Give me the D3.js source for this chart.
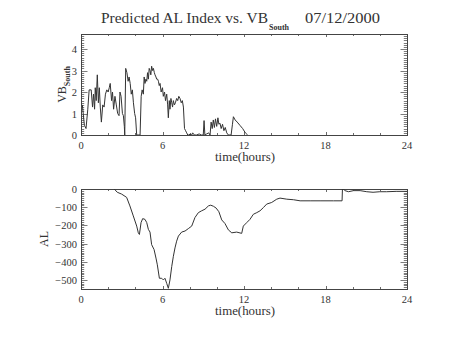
<!DOCTYPE html>
<html>
<head>
<meta charset="utf-8">
<script src="https://cdn.jsdelivr.net/npm/d3@7/dist/d3.min.js"></script>
<style>
  body { margin: 0; background: #fff; }
  text { font-family: "Liberation Serif", "DejaVu Serif", serif; fill: #333; }
</style>
</head>
<body>
<svg id="chart"></svg>
<script>
// VB_South (top panel): hours, values
const vbHours = [0.1, 0.25, 0.37, 0.5, 0.6, 0.75, 0.85, 0.92, 1.0, 1.05, 1.12, 1.2, 1.28, 1.35, 1.42, 1.5, 1.6, 1.7, 1.8, 1.9, 2.0, 2.08, 2.15, 2.25, 2.32, 2.4, 2.5, 2.6, 2.7, 2.8, 2.87, 2.95, 3.05, 3.12, 3.19, 3.22, 3.29, 3.38, 3.47, 3.54, 3.62, 3.7, 3.78, 3.86, 3.95, 4.02, 4.1, 4.35, 4.43, 4.5, 4.59, 4.65, 4.71, 4.78, 4.84, 4.9, 4.96, 5.02, 5.08, 5.14, 5.2, 5.27, 5.33, 5.4, 5.45, 5.52, 5.57, 5.64, 5.7, 5.76, 5.82, 5.9, 6.0, 6.06, 6.15, 6.22, 6.31, 6.38, 6.43, 6.5, 6.55, 6.62, 6.68, 6.74, 6.8, 6.88, 6.95, 7.04, 7.12, 7.2, 7.29, 7.38, 7.46, 7.54, 7.62, 7.7, 7.78, 7.86, 7.95, 8.03, 8.1, 8.15, 8.22, 8.35, 8.5, 8.7, 8.85, 9.0, 9.06, 9.12, 9.25, 9.4, 9.5, 9.58, 9.66, 9.74, 9.82, 9.9, 9.99, 10.08, 10.15, 10.23, 10.32, 10.42, 10.52, 10.62, 10.73, 10.85, 10.97, 11.05, 11.15, 11.22, 11.35, 11.5, 11.7, 11.9, 12.1, 12.27];
const vbValues = [1.4, 0.45, 0.3, 1.2, 2.1, 2.1, 1.3, 1.9, 1.2, 2.2, 1.6, 2.8, 1.5, 2.2, 1.3, 0.6, 1.4, 1.3, 1.9, 2.1, 2.0, 2.2, 2.4, 1.6, 2.0, 1.2, 1.8, 1.4, 1.0, 0.9, 2.0, 1.8, 1.0, 0.9, 0.4, 0.0, 3.1, 2.9, 2.5, 2.7, 2.4, 1.9, 2.1, 1.5, 1.0, 0.8, 0.0, 0.0, 1.8, 2.1, 1.9, 2.7, 2.4, 2.6, 2.5, 2.9, 2.6, 3.1, 3.0, 2.8, 3.2, 3.0, 3.1, 2.9, 2.8, 2.7, 2.6, 2.6, 2.5, 2.3, 2.4, 2.0, 2.2, 1.8, 2.0, 1.6, 1.9, 1.4, 0.8, 1.6, 1.2, 1.7, 1.5, 1.3, 1.6, 1.4, 1.5, 1.7, 1.6, 1.8, 1.7, 1.5, 1.6, 1.3, 0.3, 0.2, 0.1, 0.0, 0.0, 0.05, 0.0, 0.0, 0.1, 0.0, 0.0, 0.05, 0.0, 0.0, 0.67, 0.0, 0.05, 0.1, 0.0, 0.6, 0.3, 0.7, 0.35, 0.75, 0.4, 0.8, 0.5, 0.55, 0.3, 0.5, 0.2, 0.35, 0.1, 0.0, 0.0, 0.0, 0.5, 0.85, 0.7, 0.6, 0.45, 0.3, 0.1, 0.0];

// AL index (bottom panel): hours, values
const alHours = [2.45, 2.67, 2.99, 3.36, 3.6, 3.85, 4.1, 4.22, 4.3, 4.42, 4.54, 4.71, 4.84, 4.96, 5.08, 5.2, 5.38, 5.52, 5.62, 5.77, 5.94, 6.06, 6.18, 6.31, 6.43, 6.55, 6.68, 6.8, 6.92, 7.04, 7.17, 7.41, 7.66, 7.9, 8.15, 8.39, 8.64, 8.88, 9.13, 9.38, 9.55, 9.75, 9.95, 10.15, 10.36, 10.6, 10.85, 11.1, 11.46, 11.83, 11.95, 12.2, 12.44, 12.69, 12.94, 13.18, 13.43, 13.67, 14.04, 14.41, 14.65, 15.15, 15.64, 16.13, 16.87, 17.6, 18.59, 19.22, 19.25, 19.44, 19.69, 20.06, 20.55, 21.04, 21.5, 22.0, 22.5, 23.2, 23.8, 24.0];
const alValues = [0, -18, -28, -46, -93, -148, -204, -241, -250, -185, -163, -167, -185, -222, -237, -306, -333, -380, -417, -491, -491, -500, -491, -519, -546, -500, -426, -370, -324, -287, -259, -237, -231, -218, -204, -157, -130, -120, -111, -93, -89, -95, -105, -125, -170, -190, -225, -241, -237, -244, -204, -185, -167, -139, -130, -120, -102, -83, -74, -56, -50, -56, -59, -65, -65, -65, -65, -65, 5, -9, -15, -9, -9, -15, -18, -15, -15, -13, -13, -13];

const xTicks = [0, 6, 12, 18, 24];
const vbTicks = [0, 1, 2, 3, 4];
const alTicks = [0, -100, -200, -300, -400, -500];

const W = 454, H = 341;
const svg = d3.select("#chart").attr("width", W).attr("height", H);
svg.append("rect").attr("width", W).attr("height", H).attr("fill", "#fff");

const left = 81, right = 407;
const x = d3.scaleLinear().domain([0, 24]).range([left, right]);

function panel(top, bottom, yDomain, yTicks, yMinorStep, hours, values, labelX) {
  const y = d3.scaleLinear().domain(yDomain).range([bottom, top]);
  const g = svg.append("g");
  const ph = bottom - top, pw = right - left;
  const xMaj = 3, xMin = 2, yMaj = 6.5, yMin = 3.2;
  const ax = "#444";

  // x ticks (bottom and top, inward)
  d3.range(0, 24.01, 2).forEach(v => {
    const len = xTicks.includes(v) ? xMaj : xMin;
    const xx = Math.round(x(v)) + 0.5;
    g.append("line").attr("x1", xx).attr("x2", xx).attr("y1", bottom).attr("y2", bottom - len).attr("stroke", ax).attr("stroke-width", 0.8);
    g.append("line").attr("x1", xx).attr("x2", xx).attr("y1", top).attr("y2", top + len).attr("stroke", ax).attr("stroke-width", 0.8);
  });
  // y ticks (left and right, inward)
  const [y0, y1] = y.domain();
  const lo = Math.min(y0, y1), hi = Math.max(y0, y1);
  d3.range(Math.ceil(lo / yMinorStep) * yMinorStep, hi + 1e-9, yMinorStep).forEach(v => {
    const isMaj = yTicks.some(t => Math.abs(t - v) < 1e-6);
    const len = isMaj ? yMaj : yMin;
    const yy = Math.round(y(v)) + 0.5;
    g.append("line").attr("x1", left).attr("x2", left + len).attr("y1", yy).attr("y2", yy).attr("stroke", ax).attr("stroke-width", 0.7);
    g.append("line").attr("x1", right).attr("x2", right - len).attr("y1", yy).attr("y2", yy).attr("stroke", ax).attr("stroke-width", 0.7);
  });

  // frame
  g.append("rect").attr("x", left + 0.5).attr("y", top + 0.5).attr("width", pw).attr("height", ph)
    .attr("fill", "none").attr("stroke", ax).attr("stroke-width", 1);

  // tick labels
  g.selectAll(".xl").data(xTicks).enter().append("text")
    .attr("x", d => x(d)).attr("y", bottom + 14).attr("text-anchor", "middle")
    .attr("font-size", 10.5).text(d => d);
  g.selectAll(".yl").data(yTicks).enter().append("text")
    .attr("x", left - 4).attr("y", d => y(d) + 4).attr("text-anchor", "end")
    .attr("font-size", 10.5).text(d => d < 0 ? "\u2212" + Math.abs(d) : d);

  g.append("text").attr("x", (left + right) / 2 + 1).attr("y", bottom + 26)
    .attr("text-anchor", "middle").attr("font-size", 11.5)
    .attr("textLength", 60).attr("lengthAdjust", "spacingAndGlyphs").text("time(hours)");

  // clip + line
  const clipId = "clip" + top;
  svg.append("clipPath").attr("id", clipId).append("rect")
    .attr("x", left).attr("y", top).attr("width", pw).attr("height", ph);
  const line = d3.line().x((d, i) => x(hours[i])).y(d => y(d));
  g.append("path").datum(values).attr("d", line).attr("fill", "none")
    .attr("stroke", "#333").attr("stroke-width", 1).attr("clip-path", `url(#${clipId})`);

  // y label
  const yl = g.append("text").attr("transform", `translate(${labelX},${(top + bottom) / 2}) rotate(-90)`)
    .attr("text-anchor", "middle").attr("font-size", 12);
  return { y, yl };
}

const p1 = panel(34, 135, [0, 4.7], vbTicks, 0.1, vbHours, vbValues, 66);
p1.yl.append("tspan").text("VB");
p1.yl.append("tspan").attr("font-size", 8).attr("font-weight", "bold").attr("dy", 4).text("South");

const p2 = panel(189, 289, [-550, 0], alTicks, 10, alHours, alValues, 48);
p2.yl.text("AL");

// title
svg.append("text").attr("x", 101).attr("y", 23).attr("font-size", 14)
  .attr("textLength", 167).attr("lengthAdjust", "spacingAndGlyphs").text("Predicted AL Index vs. VB");
svg.append("text").attr("x", 269).attr("y", 30).attr("font-size", 8).attr("font-weight", "bold").text("South");
svg.append("text").attr("x", 305).attr("y", 23).attr("font-size", 14)
  .attr("textLength", 75).attr("lengthAdjust", "spacingAndGlyphs").text("07/12/2000");
</script>
</body>
</html>
